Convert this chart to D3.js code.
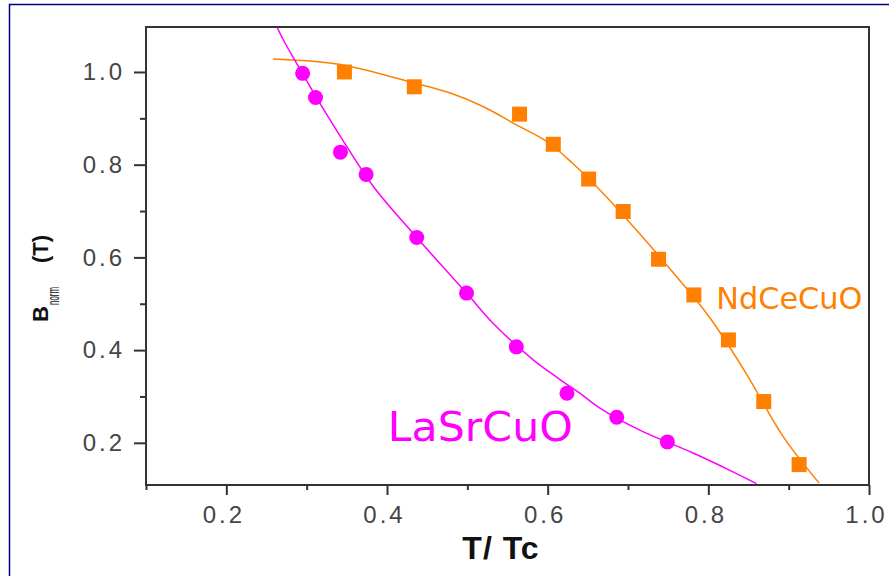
<!DOCTYPE html>
<html>
<head>
<meta charset="utf-8">
<script src="https://cdn.jsdelivr.net/npm/d3@7"></script>
<style>
  body { margin: 0; background: #fff; }
  svg { display: block; }
</style>
</head>
<body>
<div id="chart"></div>
<script>
// measured points
const laT = [0.295, 0.311, 0.342, 0.374, 0.437, 0.499, 0.561, 0.624, 0.686, 0.749];
const laB = [0.997, 0.945, 0.827, 0.779, 0.643, 0.523, 0.407, 0.307, 0.255, 0.202];
const ndT = [0.347, 0.434, 0.565, 0.607, 0.651, 0.694, 0.738, 0.782, 0.825, 0.869, 0.913];
const ndB = [1.000, 0.968, 0.909, 0.844, 0.769, 0.699, 0.596, 0.519, 0.422, 0.289, 0.153];

// fitted curves
const laFitT = [0.263, 0.271, 0.285, 0.319, 0.350, 0.383, 0.437, 0.499, 0.532, 0.582, 0.615, 0.640, 0.665, 0.714, 0.781, 0.830, 0.860];
const laFitB = [1.097, 1.069, 1.026, 0.925, 0.839, 0.753, 0.643, 0.523, 0.458, 0.379, 0.337, 0.307, 0.275, 0.228, 0.178, 0.138, 0.112];
const ndFitT = [0.258, 0.338, 0.428, 0.478, 0.520, 0.561, 0.599, 0.631, 0.673, 0.714, 0.764, 0.801, 0.847, 0.893, 0.938];
const ndFitB = [1.028, 1.017, 0.979, 0.955, 0.925, 0.886, 0.850, 0.803, 0.731, 0.652, 0.551, 0.472, 0.350, 0.214, 0.113];

const xMajor = [0.2, 0.4, 0.6, 0.8, 1.0];
const xMinor = [0.1, 0.3, 0.5, 0.7, 0.9];
const yMajor = [0.2, 0.4, 0.6, 0.8, 1.0];
const yMinor = [0.3, 0.5, 0.7, 0.9];

const width = 889;
const height = 576;
const margin = { top: 27, right: 20, bottom: 91, left: 146 };
const w = width - margin.left - margin.right;
const h = height - margin.top - margin.bottom;

const laColor = '#ff00ff';
const ndColor = '#ff8000';
const axisColor = '#333';

const svg = d3.select('#chart').append('svg')
    .attr('width', width)
    .attr('height', height)
    .style('background', '#fff');

// outer navy frame
svg.append('rect')
    .attr('x', 9.5).attr('y', 4.5)
    .attr('width', 1000).attr('height', 1000)
    .attr('fill', 'none')
    .attr('stroke', '#000080')
    .attr('stroke-width', 1.5);

const g = svg.append('g')
    .attr('transform', 'translate(' + margin.left + ',' + margin.top + ')');

const x = d3.scaleLinear().domain([0.1, 1.0]).range([0, w]);
const y = d3.scaleLinear().domain([0.109, 1.097]).range([h, 0]);

g.append('clipPath').attr('id', 'clip')
    .append('rect').attr('width', w).attr('height', h);

const line = d3.line()
    .x(d => x(d[0]))
    .y(d => y(d[1]))
    .curve(d3.curveCatmullRom);

const plot = g.append('g').attr('clip-path', 'url(#clip)');

plot.append('path')
    .datum(ndFitT.map((t, i) => [t, ndFitB[i]]))
    .attr('d', line)
    .attr('fill', 'none')
    .attr('stroke', ndColor)
    .attr('stroke-width', 1.5);

plot.append('path')
    .datum(laFitT.map((t, i) => [t, laFitB[i]]))
    .attr('d', line)
    .attr('fill', 'none')
    .attr('stroke', laColor)
    .attr('stroke-width', 1.5);

// squares
g.append('g')
    .selectAll('rect')
    .data(ndT.map((t, i) => [t, ndB[i]]))
    .enter().append('rect')
    .attr('x', d => x(d[0]) - 7.5)
    .attr('y', d => y(d[1]) - 7.5)
    .attr('width', 15)
    .attr('height', 15)
    .attr('fill', ndColor);

// circles
g.append('g')
    .selectAll('circle')
    .data(laT.map((t, i) => [t, laB[i]]))
    .enter().append('circle')
    .attr('cx', d => x(d[0]))
    .attr('cy', d => y(d[1]))
    .attr('r', 7.5)
    .attr('fill', laColor);

// axes
const fmt = d3.format('.1f');

g.append('g')
    .attr('class', 'x-major')
    .attr('transform', 'translate(0,' + h + ')')
    .call(d3.axisBottom(x).tickValues(xMajor).tickFormat(fmt).tickSize(10).tickPadding(11).tickSizeOuter(0));
g.append('g')
    .attr('transform', 'translate(0,' + h + ')')
    .call(d3.axisBottom(x).tickValues(xMinor).tickFormat('').tickSize(5).tickSizeOuter(0));

g.append('g')
    .call(d3.axisLeft(y).tickValues(yMajor).tickFormat(fmt).tickSize(12).tickPadding(9).tickSizeOuter(0));
g.append('g')
    .call(d3.axisLeft(y).tickValues(yMinor).tickFormat('').tickSize(6).tickSizeOuter(0));

g.selectAll('.domain').remove();
g.selectAll('.tick line').attr('stroke', axisColor).attr('stroke-width', 2);
g.selectAll('.tick text')
    .attr('fill', '#454545')
    .style('font-family', '"Liberation Sans", Arial, sans-serif')
    .style('font-size', '24px')
    .style('letter-spacing', '3px');
g.selectAll('.x-major .tick text').attr('dx', '-3px');

// plot frame
g.append('rect')
    .attr('width', w)
    .attr('height', h)
    .attr('fill', 'none')
    .attr('stroke', axisColor)
    .attr('stroke-width', 2);

// axis titles
svg.append('text')
    .attr('x', 501)
    .attr('y', 559)
    .attr('text-anchor', 'middle')
    .style('font-family', '"Liberation Sans", Arial, sans-serif')
    .style('font-weight', 'bold')
    .style('font-size', '32px')
    .style('letter-spacing', '1px')
    .attr('fill', '#111')
    .text('T/ Tc');

const yt = svg.append('g')
    .attr('transform', 'translate(48,322) rotate(-90)')
    .style('font-family', '"Liberation Sans", Arial, sans-serif')
    .attr('fill', '#111');
yt.append('text')
    .attr('x', 0).attr('y', 0)
    .style('font-weight', 'bold')
    .style('font-size', '22px')
    .text('B');
yt.append('text')
    .attr('x', 17).attr('y', 10.5)
    .attr('textLength', 18)
    .attr('lengthAdjust', 'spacingAndGlyphs')
    .style('font-size', '16px')
    .text('norm');
yt.append('text')
    .attr('x', 59).attr('y', 0)
    .style('font-weight', 'bold')
    .style('font-size', '22px')
    .text('(T)');

// series labels
g.append('text')
    .attr('x', x(0.401))
    .attr('y', y(0.204))
    .attr('textLength', 185)
    .attr('lengthAdjust', 'spacingAndGlyphs')
    .style('font-family', '"Comic Sans MS", "DejaVu Sans", sans-serif')
    .style('font-size', '40px')
    .attr('fill', laColor)
    .text('LaSrCuO');

g.append('text')
    .attr('x', x(0.810))
    .attr('y', y(0.489))
    .attr('textLength', 146)
    .attr('lengthAdjust', 'spacingAndGlyphs')
    .style('font-family', '"Comic Sans MS", "DejaVu Sans", sans-serif')
    .style('font-size', '30px')
    .attr('fill', ndColor)
    .text('NdCeCuO');
</script>
</body>
</html>
